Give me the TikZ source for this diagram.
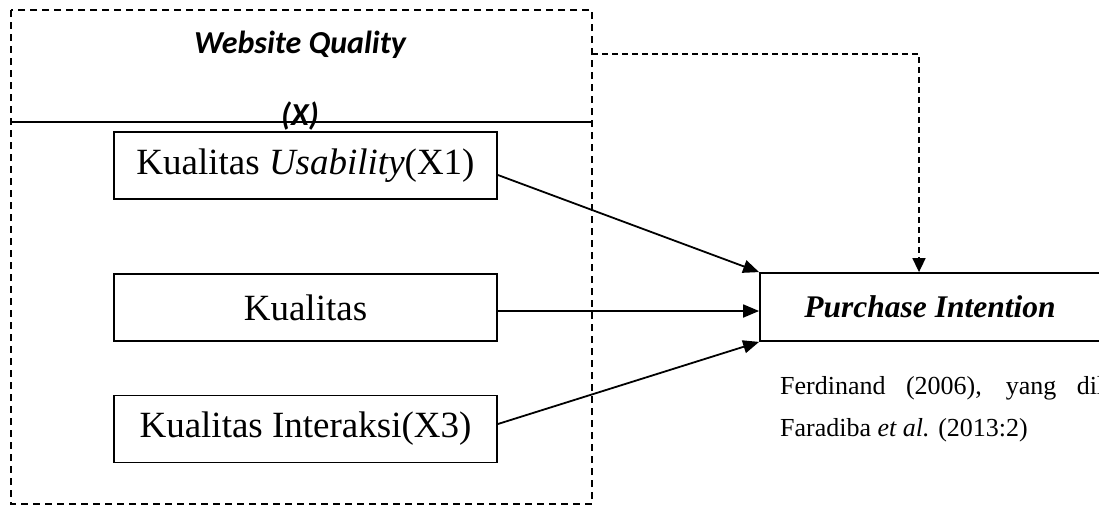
\documentclass[tikz,border=0pt]{standalone}
\usepackage{fontspec}
\setmainfont{Liberation Serif}
\newfontfamily\calfont{Carlito}
\usetikzlibrary{arrows.meta}
\begin{document}
\begin{tikzpicture}[x=1pt,y=-1pt,
  boxnode/.style={draw,line width=1.8pt,minimum width=383pt,minimum height=67pt,inner sep=0pt,font=\fontsize{37}{40}\selectfont},
  pinode/.style={draw,line width=1.8pt,minimum width=340pt,minimum height=68pt,inner sep=0pt,font=\fontsize{31.5}{36}\selectfont\bfseries\itshape},
  conn/.style={line width=1.8pt,-{Triangle[length=16pt,width=13pt]}},
  dconn/.style={line width=1.6pt,dash pattern=on 6pt off 4pt,-{Triangle[length=14pt,width=13pt]}},
  groupbox/.style={line width=2.6pt,dash pattern=on 7pt off 5pt},
  headtext/.style={inner sep=0pt,font=\fontsize{32}{36}\calfont\bfseries\itshape},
  citetext/.style={inner sep=0pt,anchor=base west,font=\fontsize{26}{30}\selectfont}]
\useasboundingbox (0,0) rectangle (1099,506);
\clip (0,0) rectangle (1099,506);
% group box
\draw[groupbox] (11,10) rectangle (592,504);
\coordinate (hl) at (11,122);
\coordinate (hr) at (591,122);
\draw[line width=1.8pt] (hl) -- (hr);
\node[headtext,anchor=base] (wq) at (300,53) {Website Quality};
\node[headtext,anchor=base] (xx) at (300,125) {(X)};
% boxes
\node[boxnode] (b1) at (305.5,165.5) {Kualitas \textit{Usability}(X1)};
\node[boxnode] (b2) at (305.5,307.5) {Kualitas};
\node[boxnode] (b3) at (305.5,429) {Kualitas Interaksi(X3)};
\node[pinode] (pi) at (930,307) {Purchase Intention};
% connectors
\draw[conn] ([yshift=-9.5pt]b1.east) -- (pi.north west);
\draw[conn] ([yshift=-3.5pt]b2.east) -- ([yshift=-3.5pt]b2.east -| pi.west);
\draw[conn] ([yshift=5pt]b3.east) -- (pi.south west);
\coordinate (ds) at (592,54);
\coordinate (dk) at (919,54);
\draw[dconn] (ds) -- (dk) -- (dk |- pi.north);
% citation
\node[citetext] (c1) at (780,394) {\makebox[324pt][s]{Ferdinand (2006), yang dil}};
\node[citetext] (c2) at (780,436) {Faradiba \textit{et al.} (2013:2)};
\end{tikzpicture}
\end{document}
